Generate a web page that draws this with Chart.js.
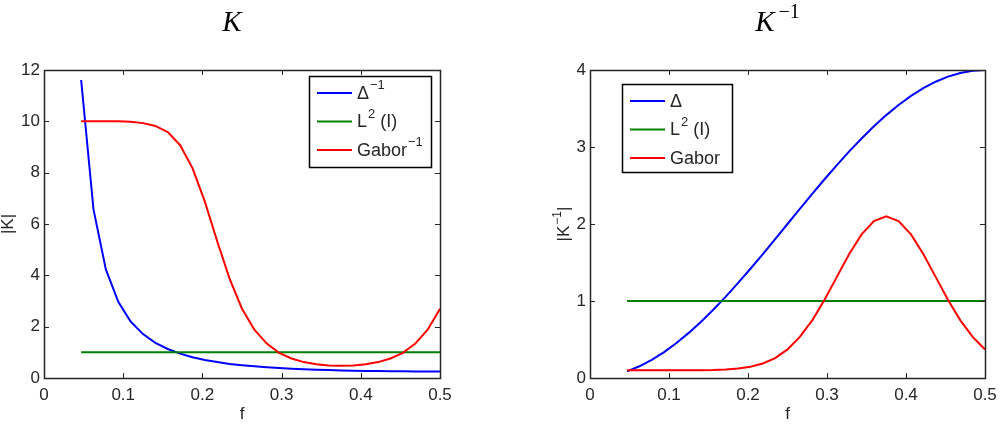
<!DOCTYPE html>
<html>
<head>
<meta charset="utf-8">
<script src="https://cdn.jsdelivr.net/npm/chart.js@4.4.1/dist/chart.umd.min.js"></script>
<style>
html, body { margin: 0; padding: 0; background: #fff; }
#wrap { position: relative; width: 1008px; height: 426px; }
.panel { position: absolute; top: 0; width: 504px; height: 426px; }
</style>
</head>
<body>
<div id="wrap">
  <div class="panel" style="left:0"><canvas id="grafK" width="504" height="426"></canvas></div>
  <div class="panel" style="left:504px"><canvas id="grafKinv" width="504" height="426"></canvas></div>
</div>
<script>
// frecuencias f (eje x)
const frecuencias = [0.0469, 0.0625, 0.0781, 0.0938, 0.1094, 0.125, 0.1406, 0.1563, 0.1719, 0.1875,
  0.2031, 0.2188, 0.2344, 0.25, 0.2656, 0.2813, 0.2969, 0.3125, 0.3281, 0.3438,
  0.3594, 0.375, 0.3906, 0.4063, 0.4219, 0.4375, 0.4531, 0.4688, 0.4844, 0.5];

// |K|
const deltaInv = [11.61, 6.57, 4.23, 2.97, 2.20, 1.71, 1.37, 1.13, 0.95, 0.81,
  0.70, 0.62, 0.55, 0.50, 0.46, 0.42, 0.39, 0.36, 0.34, 0.32,
  0.31, 0.29, 0.28, 0.27, 0.27, 0.26, 0.26, 0.25, 0.25, 0.25];
const l2K = [1, 1, 1, 1, 1, 1, 1, 1, 1, 1, 1, 1, 1, 1, 1, 1, 1, 1, 1, 1, 1, 1, 1, 1, 1, 1, 1, 1, 1, 1];
const gaborInv = [10.0, 10.0, 10.0, 10.0, 9.98, 9.93, 9.82, 9.58, 9.07, 8.18,
  6.87, 5.32, 3.86, 2.70, 1.88, 1.34, 0.98, 0.76, 0.62, 0.54,
  0.49, 0.48, 0.49, 0.54, 0.62, 0.76, 0.98, 1.34, 1.88, 2.70];

// |K^-1|
const delta = [0.086, 0.152, 0.236, 0.337, 0.454, 0.586, 0.731, 0.889, 1.057, 1.235,
  1.419, 1.610, 1.804, 2.000, 2.196, 2.390, 2.581, 2.765, 2.943, 3.111,
  3.269, 3.414, 3.546, 3.663, 3.764, 3.848, 3.914, 3.962, 3.990, 4.000];
const l2Kinv = [1, 1, 1, 1, 1, 1, 1, 1, 1, 1, 1, 1, 1, 1, 1, 1, 1, 1, 1, 1, 1, 1, 1, 1, 1, 1, 1, 1, 1, 1];
const gabor = [0.100, 0.100, 0.100, 0.100, 0.100, 0.101, 0.102, 0.104, 0.110, 0.122,
  0.146, 0.188, 0.259, 0.371, 0.533, 0.749, 1.016, 1.313, 1.610, 1.865,
  2.038, 2.100, 2.038, 1.865, 1.610, 1.313, 1.016, 0.749, 0.533, 0.371];

const ticksX = [0, 0.1, 0.2, 0.3, 0.4, 0.5];
const ticksYK = [0, 2, 4, 6, 8, 10, 12];
const ticksYKinv = [0, 1, 2, 3, 4];

const AZUL = '#0000ff', VERDE = '#008000', ROJO = '#ff0000';
const SANS = '"Liberation Sans", Arial, sans-serif';
const SERIF = '"Liberation Serif", "DejaVu Serif", serif';

// texto con superindices tipo "K^{-1}"
function textoRico(ctx, s, x, y, size, fam, estilo, align, sub, estiloSup, hueco) {
  if (estiloSup === undefined) estiloSup = estilo;
  hueco = hueco || 1;
  const partes = s.split(/(\^\{[^}]*\})/).filter(p => p.length).map(p =>
    p.startsWith('^{') ? {t: p.slice(2, -1), sup: true} : {t: p, sup: false});
  const fuente = p => (p.sup ? estiloSup : estilo) + (p.sup ? Math.round(size * sub) : size) + 'px ' + fam;
  let ancho = 0;
  partes.forEach(p => {
    ctx.font = fuente(p);
    p.w = ctx.measureText(p.t).width + (p.sup ? hueco : 0);
    ancho += p.w;
  });
  let cx = align === 'center' ? x - ancho / 2 : x;
  partes.forEach(p => {
    ctx.font = fuente(p);
    ctx.fillText(p.t, cx + (p.sup ? hueco : 0), p.sup ? y - size * 0.45 : y);
    cx += p.w;
  });
}

const marco = {
  id: 'marco',
  afterDatasetsDraw(chart, args, o) {
    const {ctx, chartArea: a, scales: {x, y}} = chart;
    ctx.save();
    ctx.strokeStyle = '#262626';
    ctx.lineWidth = 1;
    ctx.beginPath();
    x.ticks.forEach(t => {
      const px = Math.round(x.getPixelForValue(t.value)) + 0.5;
      ctx.moveTo(px, a.bottom); ctx.lineTo(px, a.bottom - 5);
      ctx.moveTo(px, a.top); ctx.lineTo(px, a.top + 5);
    });
    y.ticks.forEach(t => {
      const py = Math.round(y.getPixelForValue(t.value)) + 0.5;
      ctx.moveTo(a.left, py); ctx.lineTo(a.left + 5, py);
      ctx.moveTo(a.right, py); ctx.lineTo(a.right - 5, py);
    });
    ctx.stroke();
    ctx.lineWidth = 1.5;
    ctx.strokeRect(a.left + 0.5, a.top + 0.5, a.right - a.left, a.bottom - a.top);

    // titulo y etiquetas de ejes
    ctx.fillStyle = '#000';
    ctx.textBaseline = 'alphabetic';
    textoRico(ctx, o.titulo, (a.left + a.right) / 2 - 10, 31, 29, SERIF, 'italic ', 'center', 0.68, '', 4);
    ctx.fillStyle = '#262626';
    textoRico(ctx, 'f', (a.left + a.right) / 2, 419, 17, SANS, '', 'center', 0.7);
    ctx.save();
    ctx.translate(o.yLabelX, (a.top + a.bottom) / 2);
    ctx.rotate(-Math.PI / 2);
    textoRico(ctx, o.yLabel, 0, 0, 17, SANS, '', 'center', 0.7);
    ctx.restore();

    // leyenda con marco
    const L = o.leyenda;
    ctx.fillStyle = '#fff';
    ctx.fillRect(L.x, L.y, L.w, L.h);
    ctx.strokeStyle = '#000';
    ctx.lineWidth = 1.5;
    ctx.strokeRect(L.x + 0.5, L.y + 0.5, L.w, L.h);
    chart.data.datasets.forEach((ds, i) => {
      const ry = L.y + 17 + i * 28.5;
      ctx.strokeStyle = ds.borderColor;
      ctx.lineWidth = 2;
      ctx.beginPath();
      ctx.moveTo(L.x + 8, ry); ctx.lineTo(L.x + 43, ry);
      ctx.stroke();
      ctx.fillStyle = '#262626';
      ctx.textBaseline = 'middle';
      textoRico(ctx, ds.label, L.x + 48, ry + 1, 18, SANS, '', 'left', 0.7);
    });
    ctx.restore();
  }
};

function serie(label, ys, color, orden) {
  return {
    label: label,
    data: frecuencias.map((f, i) => ({x: f, y: ys[i]})),
    borderColor: color,
    backgroundColor: color,
    borderWidth: 2,
    pointRadius: 0,
    tension: 0,
    fill: false,
    order: orden
  };
}

function grafica(id, datasets, yMax, ticksY, extra, ancho, derecha) {
  return new Chart(document.getElementById(id), {
    type: 'line',
    data: {datasets: datasets},
    options: {
      responsive: false,
      animation: false,
      events: [],
      layout: {padding: {left: 0, top: 70, right: derecha, bottom: 0}},
      plugins: {legend: {display: false}, tooltip: {enabled: false}, marco: extra},
      scales: {
        x: {
          type: 'linear', min: 0, max: 0.5,
          grid: {display: false, drawTicks: false},
          border: {display: false},
          afterBuildTicks: s => { s.ticks = ticksX.map(v => ({value: v})); },
          afterFit: s => { s.height = 48; },
          ticks: {color: '#262626', padding: 7, font: {family: SANS, size: 17}}
        },
        y: {
          min: 0, max: yMax,
          grid: {display: false, drawTicks: false},
          border: {display: false},
          afterBuildTicks: s => { s.ticks = ticksY.map(v => ({value: v})); },
          afterFit: s => { s.width = ancho; },
          ticks: {color: '#262626', padding: 4, font: {family: SANS, size: 17}}
        }
      }
    },
    plugins: [marco]
  });
}

grafica('grafK', [
  serie('Δ^{−1}', deltaInv, AZUL, 3),
  serie('L^{2} (I)', l2K, VERDE, 2),
  serie('Gabor^{−1}', gaborInv, ROJO, 1)
], 12, ticksYK, {
  titulo: 'K', yLabel: '|K|', yLabelX: 13,
  leyenda: {x: 309, y: 76, w: 122, h: 91}
}, 44, 64);

grafica('grafKinv', [
  serie('Δ', delta, AZUL, 3),
  serie('L^{2} (I)', l2Kinv, VERDE, 2),
  serie('Gabor', gabor, ROJO, 1)
], 4, ticksYKinv, {
  titulo: 'K^{−1}', yLabel: '|K^{−1}|', yLabelX: 65,
  leyenda: {x: 118, y: 84, w: 110, h: 88}
}, 86, 23);
</script>
</body>
</html>
